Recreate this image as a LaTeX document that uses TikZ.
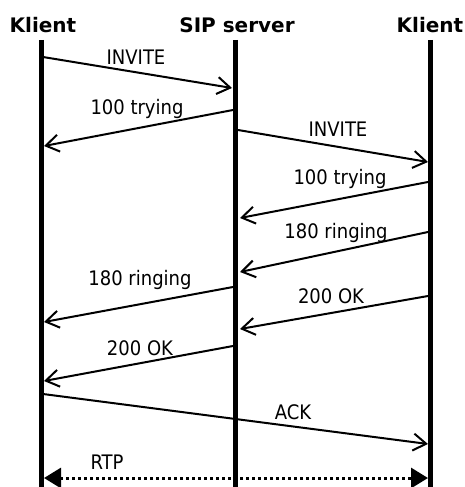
\documentclass[tikz,border=0pt]{standalone}
\usepackage{fontspec}
\setmainfont{DejaVu Sans}
\newfontfamily\lblfont{DejaVu Sans Condensed}
\usetikzlibrary{arrows.meta}
\begin{document}
\begin{tikzpicture}[x=1pt,y=-1pt,
  head/.style={font=\fontsize{20}{22}\selectfont\bfseries, anchor=base, inner sep=0pt},
  lbl/.style={font=\lblfont\fontsize{20}{22}\selectfont, anchor=base, inner sep=0pt},
  life/.style={line width=5pt},
  msg/.style={line width=2pt, -{Straight Barb[length=13pt,width=17pt,line width=2pt]}},
  rtp/.style={line width=3pt, dash pattern=on 3pt off 3pt,
    {Triangle[length=17pt,width=20pt]}-{Triangle[length=17pt,width=20pt]}}]
\useasboundingbox (0,0) rectangle (465,487);
% headers
\node[head] (hA) at (43,33) {Klient};
\node[head] (hS) at (237,33) {SIP server};
\node[head] (hB) at (430,33) {Klient};
% lifelines
\coordinate (tA) at (41.5,40); \coordinate (bA) at (41.5,487);
\coordinate (tS) at (235,40);  \coordinate (bS) at (235,487);
\coordinate (tB) at (430.5,40); \coordinate (bB) at (430.5,487);
\draw[life] (tA) -- (bA);
\draw[life] (tS) -- (bS);
\draw[life] (tB) -- (bB);
% message endpoints
\coordinate (a1) at (43,57);   \coordinate (s1) at (232,88);
\coordinate (s2) at (233,110); \coordinate (a2) at (44,146);
\coordinate (s3) at (238,130); \coordinate (b3) at (428,162);
\coordinate (b4) at (428,182); \coordinate (s4) at (240,218);
\coordinate (b5) at (428,232); \coordinate (s5) at (240,272);
\coordinate (s6) at (233,287); \coordinate (a6) at (44,322);
\coordinate (b7) at (428,296); \coordinate (s7) at (240,329);
\coordinate (s8) at (233,346); \coordinate (a8) at (44,381);
\coordinate (a9) at (43,394);  \coordinate (b9) at (428,444);
\coordinate (a10) at (44,478); \coordinate (b10) at (428,478);
% messages
\draw[msg] (a1) -- (s1);
\draw[msg] (s2) -- (a2);
\draw[msg] (s3) -- (b3);
\draw[msg] (b4) -- (s4);
\draw[msg] (b5) -- (s5);
\draw[msg] (s6) -- (a6);
\draw[msg] (b7) -- (s7);
\draw[msg] (s8) -- (a8);
\draw[msg] (a9) -- (b9);
\draw[rtp] (a10) -- (b10);
% labels
\node[lbl] (l1) at (136,64) {INVITE};
\node[lbl] (l2) at (137,114) {100 trying};
\node[lbl] (l3) at (338,136) {INVITE};
\node[lbl] (l4) at (340,184) {100 trying};
\node[lbl] (l5) at (336,238) {180 ringing};
\node[lbl] (l6) at (140,285) {180 ringing};
\node[lbl] (l7) at (331,303) {200 OK};
\node[lbl] (l8) at (140,355) {200 OK};
\node[lbl] (l9) at (293,419) {ACK};
\node[lbl] (l10) at (107,469) {RTP};
\end{tikzpicture}
\end{document}
